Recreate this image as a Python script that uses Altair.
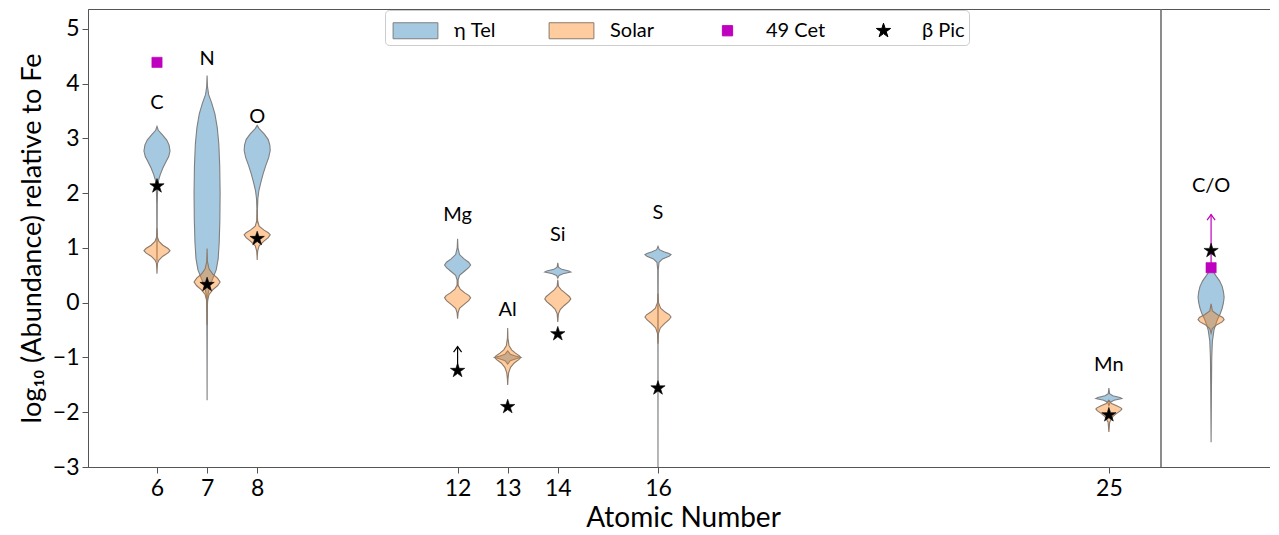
import math
import altair as alt
import pandas as pd

FONT = "Lato"

SERIES = ["η Tel", "Solar", "49 Cet", "β Pic"]
FILLS = ["rgba(31,119,180,0.4)", "rgba(255,127,14,0.4)", "#bf00bf", "#000000"]
STROKES = ["#7f7f7f", "#8c7a6b", "#bf00bf", "#000000"]

ELEMENTS = ["C", "N", "O", "Mg", "Al", "Si", "S", "Mn", "C/O"]
ATOMIC = [6, 7, 8, 12, 13, 14, 16, 25]
CO_POS = 27.04          # C/O sits in the right-hand box, no atomic number
PANEL_SPLIT = [26.04]   # border between the two boxes
X_TICKS = [6, 7, 8, 12, 13, 14, 16, 25]
Y_TICKS = [-3, -2, -1, 0, 1, 2, 3, 4, 5]

# violin profiles: value (log abundance) and relative half-width
C_tel_v = [3.22, 3.15, 3.07, 2.97, 2.88, 2.77, 2.67, 2.58, 2.46, 2.34, 2.22, 2.10, 1.8, 1.2, 0.75]
C_tel_w = [0.0, 0.1, 0.4, 0.75, 0.93, 1.0, 0.9, 0.7, 0.45, 0.25, 0.1, 0.05, 0.02, 0.01, 0.0]
C_sol_v = [1.36, 1.2, 1.12, 1.05, 0.99, 0.95, 0.91, 0.85, 0.78, 0.72, 0.6, 0.53]
C_sol_w = [0.0, 0.03, 0.15, 0.45, 0.85, 1.0, 0.85, 0.45, 0.15, 0.04, 0.01, 0.0]
N_tel_v = [4.15, 3.95, 3.80, 3.65, 3.45, 3.20, 2.90, 2.50, 2.00, 1.50, 1.10, 0.80, 0.60, 0.45, 0.30, 0.15, 0.0, -0.5, -1.2, -1.78]
N_tel_w = [0.0, 0.03, 0.12, 0.35, 0.6, 0.78, 0.9, 0.97, 1.0, 0.98, 0.93, 0.85, 0.7, 0.45, 0.2, 0.06, 0.03, 0.015, 0.005, 0.0]
N_sol_v = [0.99, 0.75, 0.62, 0.52, 0.45, 0.38, 0.31, 0.24, 0.15, 0.05, -0.15, -0.40]
N_sol_w = [0.0, 0.03, 0.15, 0.45, 0.8, 1.0, 0.8, 0.45, 0.15, 0.04, 0.01, 0.0]
O_tel_v = [3.24, 3.18, 3.08, 2.98, 2.88, 2.78, 2.65, 2.5, 2.35, 2.2, 2.05, 1.9, 1.7, 1.45]
O_tel_w = [0.0, 0.15, 0.55, 0.85, 0.97, 1.0, 0.88, 0.65, 0.45, 0.28, 0.13, 0.05, 0.02, 0.0]
O_sol_v = [1.70, 1.50, 1.40, 1.33, 1.28, 1.24, 1.19, 1.12, 1.04, 0.95, 0.85, 0.78]
O_sol_w = [0.0, 0.03, 0.15, 0.5, 0.85, 1.0, 0.85, 0.5, 0.15, 0.04, 0.01, 0.0]
Mg_tel_v = [1.17, 1.0, 0.88, 0.8, 0.74, 0.69, 0.64, 0.57, 0.5, 0.42, 0.3]
Mg_tel_w = [0.0, 0.03, 0.15, 0.5, 0.85, 1.0, 0.85, 0.5, 0.15, 0.04, 0.0]
Mg_sol_v = [0.42, 0.32, 0.25, 0.18, 0.13, 0.09, 0.04, -0.03, -0.1, -0.18, -0.29]
Mg_sol_w = [0.0, 0.04, 0.2, 0.55, 0.88, 1.0, 0.85, 0.5, 0.15, 0.04, 0.0]
Al_tel_v = [-0.88, -0.94, -0.98, -1.0, -1.02, -1.06, -1.12]
Al_tel_w = [0.0, 0.2, 0.7, 1.0, 0.7, 0.2, 0.0]
Al_sol_v = [-0.46, -0.65, -0.78, -0.86, -0.92, -0.97, -1.0, -1.04, -1.1, -1.18, -1.28, -1.4, -1.5]
Al_sol_w = [0.0, 0.02, 0.1, 0.3, 0.6, 0.9, 1.0, 0.85, 0.5, 0.22, 0.07, 0.02, 0.0]
Si_tel_v = [0.73, 0.65, 0.61, 0.58, 0.56, 0.53, 0.5, 0.45]
Si_tel_w = [0.0, 0.05, 0.3, 0.85, 1.0, 0.4, 0.1, 0.0]
Si_sol_v = [0.42, 0.3, 0.24, 0.17, 0.11, 0.07, 0.02, -0.05, -0.12, -0.2, -0.35]
Si_sol_w = [0.0, 0.05, 0.25, 0.6, 0.9, 1.0, 0.85, 0.5, 0.2, 0.05, 0.0]
S_tel_v = [1.03, 0.97, 0.93, 0.9, 0.88, 0.85, 0.8, 0.74, 0.6, 0.0, -1.0, -2.0, -3.0]
S_tel_w = [0.0, 0.1, 0.45, 0.85, 1.0, 0.85, 0.35, 0.08, 0.02, 0.01, 0.005, 0.003, 0.0]
S_sol_v = [0.17, 0.0, -0.1, -0.17, -0.22, -0.26, -0.31, -0.38, -0.46, -0.56, -0.75]
S_sol_w = [0.0, 0.04, 0.2, 0.55, 0.88, 1.0, 0.85, 0.5, 0.18, 0.04, 0.0]
Mn_tel_v = [-1.56, -1.66, -1.70, -1.73, -1.75, -1.78, -1.82, -1.88]
Mn_tel_w = [0.0, 0.05, 0.3, 0.85, 1.0, 0.4, 0.1, 0.0]
Mn_sol_v = [-1.78, -1.84, -1.88, -1.92, -1.94, -1.97, -2.02, -2.08, -2.18, -2.36]
Mn_sol_w = [0.0, 0.2, 0.6, 0.92, 1.0, 0.9, 0.6, 0.3, 0.06, 0.0]
CO_tel_v = [0.65, 0.6, 0.5, 0.4, 0.3, 0.2, 0.1, 0.0, -0.1, -0.2, -0.3, -0.4, -0.5, -0.7, -1.0, -1.5, -2.0, -2.55]
CO_tel_w = [0.0, 0.08, 0.35, 0.65, 0.85, 0.95, 1.0, 0.95, 0.85, 0.7, 0.5, 0.35, 0.22, 0.1, 0.05, 0.03, 0.015, 0.0]
CO_sol_v = [-0.02, -0.15, -0.22, -0.27, -0.31, -0.35, -0.40, -0.47, -0.56]
CO_sol_w = [0.0, 0.1, 0.5, 0.9, 1.0, 0.85, 0.45, 0.1, 0.0]

TEL_V = [C_tel_v, N_tel_v, O_tel_v, Mg_tel_v, Al_tel_v, Si_tel_v, S_tel_v, Mn_tel_v, CO_tel_v]
TEL_W = [C_tel_w, N_tel_w, O_tel_w, Mg_tel_w, Al_tel_w, Si_tel_w, S_tel_w, Mn_tel_w, CO_tel_w]
SOL_V = [C_sol_v, N_sol_v, O_sol_v, Mg_sol_v, Al_sol_v, Si_sol_v, S_sol_v, Mn_sol_v, CO_sol_v]
SOL_W = [C_sol_w, N_sol_w, O_sol_w, Mg_sol_w, Al_sol_w, Si_sol_w, S_sol_w, Mn_sol_w, CO_sol_w]

BPIC = [2.13, 0.33, 1.17, -1.24, -1.90, -0.57, -1.56, -2.05, 0.95]
CET49_X = [6, CO_POS]
CET49 = [4.39, 0.64]
LABEL_Y = [3.64, 4.45, 3.39, 1.61, -0.13, 1.23, 1.63, -1.13, 2.14]
ARROW_X = [12, CO_POS]
ARROW_FROM = [-1.24, 0.64]
ARROW_TO = [-0.80, 1.61]
ARROW_COL = ["#000000", "#bf00bf"]

HALF = 0.26
POS = ATOMIC + [CO_POS]

# ---------- symbol shapes (unit box = 32 px) ----------
SYM = 1024
RECT = "M-1.4,-0.5L1.4,-0.5L1.4,0.5L-1.4,0.5Z"
SQUARE = "M-0.32,-0.32L0.32,-0.32L0.32,0.32L-0.32,0.32Z"
_pts = []
for i in range(10):
    a = -math.pi / 2 + i * math.pi / 5
    r = 0.47 if i % 2 == 0 else 0.47 * 0.382
    _pts.append(f"{r * math.cos(a):.4f},{r * math.sin(a):.4f}")
STAR = "M" + "L".join(_pts) + "Z"
CHEVRON = "M-1,1.4L0,0L1,1.4"

rows = []
for ser, VV, WW in [("η Tel", TEL_V, TEL_W), ("Solar", SOL_V, SOL_W)]:
    for e, z, vs, ws in zip(ELEMENTS, POS, VV, WW):
        for v, w in zip(vs, ws):
            rows.append(dict(key=f"{e}_{ser}", series=ser, v=v, lo=z - w * HALF, hi=z + w * HALF))
vio_df = pd.DataFrame(rows)

pts_df = pd.DataFrame(
    [dict(x=z, v=b, series="β Pic") for z, b in zip(POS, BPIC)]
    + [dict(x=z, v=c, series="49 Cet") for z, c in zip(CET49_X, CET49)]
)
lab_df = pd.DataFrame(dict(x=POS, v=LABEL_Y, t=ELEMENTS))
split_df = pd.DataFrame(dict(x=PANEL_SPLIT))

# ---------- scales & encodings ----------
PLOT_W = 1182
yscale = alt.Scale(domain=[-3, 5.365], nice=False, zero=False)
xscale = alt.Scale(domain=[4.623, 4.623 + PLOT_W / 50.1], nice=False, zero=False)

legend = alt.Legend(
    title=None, orient="none", legendX=297, legendY=1, direction="horizontal",
    columns=4, symbolSize=SYM, labelFontSize=20, labelFont=FONT, labelOffset=22,
    symbolOffset=10, gridAlign="all", columnPadding=31, padding=4,
    fillColor="white", strokeColor="#cccccc",
    cornerRadius=4, symbolStrokeWidth=1, labelColor="black",
)
color_enc = alt.Color("series:N", scale=alt.Scale(domain=SERIES, range=FILLS), legend=legend)
stroke_enc = alt.Stroke("series:N", scale=alt.Scale(domain=SERIES, range=STROKES), legend=legend)
shape_enc = alt.Shape("series:N", scale=alt.Scale(domain=SERIES, range=[RECT, RECT, SQUARE, STAR]), legend=legend)

y_axis = alt.Axis(values=Y_TICKS, title="log₁₀ (Abundance) relative to Fe", titleFontSize=27,
                  labelFontSize=23, tickSize=6, labelPadding=3, titlePadding=6, format="d")
x_axis = alt.Axis(values=X_TICKS, title="Atomic Number", titleFontSize=28, labelFontSize=23,
                  tickSize=6, labelPadding=4, titlePadding=4, format="d", labelFlush=False,
                  titleX=595)

X = lambda f: alt.X(f, scale=xscale, axis=x_axis)
Y = lambda f: alt.Y(f, scale=yscale, axis=y_axis)

violins = alt.Chart(vio_df).mark_area(orient="horizontal", strokeWidth=1.1).encode(
    y=Y("v:Q"),
    x=alt.X("lo:Q", scale=xscale, axis=x_axis, stack=None),
    x2="hi:Q",
    detail="key:N",
    color=color_enc,
    stroke=stroke_enc,
)

split = alt.Chart(split_df).mark_rule(color="#6f6f6f", strokeWidth=1.6).encode(x=X("x:Q"))

arrows = []
for ax, a0, a1, col in zip(ARROW_X, ARROW_FROM, ARROW_TO, ARROW_COL):
    adf = pd.DataFrame([dict(x=ax, v=a0, v2=a1)])
    arrows.append(alt.Chart(adf).mark_rule(color=col, strokeWidth=1.2).encode(
        x=X("x:Q"), y=Y("v:Q"), y2="v2:Q"))
    arrows.append(alt.Chart(adf).mark_point(shape=CHEVRON, size=64, filled=False, color=col,
                                            strokeWidth=1.2, opacity=1).encode(x=X("x:Q"), y=Y("v2:Q")))

points = alt.Chart(pts_df).mark_point(filled=True, size=SYM, strokeWidth=0.6, opacity=1).encode(
    x=X("x:Q"), y=Y("v:Q"), color=color_enc, stroke=stroke_enc, shape=shape_enc)

texts = alt.Chart(lab_df).mark_text(fontSize=20, font=FONT, color="black", baseline="middle", align="center").encode(
    x=X("x:Q"), y=Y("v:Q"), text="t:N")

chart = alt.layer(violins, split, *arrows, points, texts).properties(
    width=PLOT_W, height=458,
    padding={"left": 10, "top": 0, "right": 0, "bottom": 0},
).configure(font=FONT).configure_view(
    stroke="#555555", strokeWidth=1
).configure_axis(
    grid=False, domainColor="#555555", tickColor="#555555", labelColor="black", titleColor="black",
    labelFont=FONT, titleFont=FONT, titleFontWeight="normal", domainWidth=1, tickWidth=1,
)

chart.save("out.html", embed_options={"renderer": "svg", "actions": False})
